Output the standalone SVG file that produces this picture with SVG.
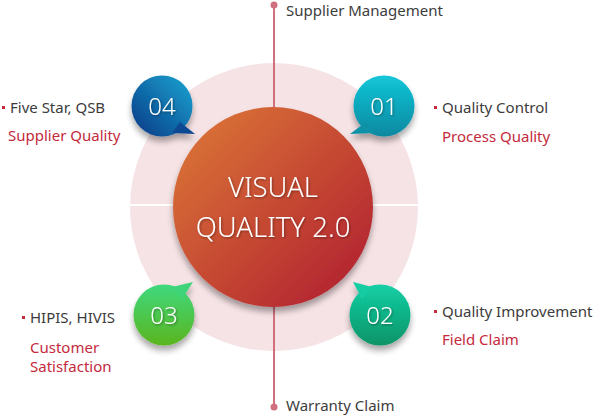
<svg xmlns="http://www.w3.org/2000/svg" width="595" height="416" viewBox="0 0 595 416">
<defs>
<linearGradient id="gMain" x1="0" y1="0" x2="1" y2="1">
<stop offset="0" stop-color="#de7b38"/>
<stop offset="1" stop-color="#ae1a2e"/>
</linearGradient>
<linearGradient id="g04" x1="1" y1="0" x2="0" y2="1">
<stop offset="0" stop-color="#17a6d2"/>
<stop offset="1" stop-color="#0b3784"/>
</linearGradient>
<linearGradient id="g01" x1="0.5" y1="0" x2="0.5" y2="1">
<stop offset="0" stop-color="#13c6d8"/>
<stop offset="1" stop-color="#0a88a0"/>
</linearGradient>
<linearGradient id="g03" x1="0.5" y1="0" x2="0.5" y2="1">
<stop offset="0" stop-color="#3fd97e"/>
<stop offset="1" stop-color="#5ab51e"/>
</linearGradient>
<linearGradient id="g02" x1="0.5" y1="0" x2="0.5" y2="1">
<stop offset="0" stop-color="#14cfa6"/>
<stop offset="1" stop-color="#0a9466"/>
</linearGradient>
<filter id="sh" x="-30%" y="-30%" width="160%" height="170%">
<feGaussianBlur in="SourceAlpha" stdDeviation="3"/>
<feOffset dx="0" dy="5" result="b"/>
<feComponentTransfer><feFuncA type="linear" slope="0.35"/></feComponentTransfer>
<feMerge><feMergeNode/><feMergeNode in="SourceGraphic"/></feMerge>
</filter>
<filter id="tsh" x="-10%" y="-20%" width="120%" height="150%">
<feGaussianBlur in="SourceAlpha" stdDeviation="0.8"/>
<feOffset dx="0.5" dy="1"/>
<feComponentTransfer><feFuncA type="linear" slope="0.4"/></feComponentTransfer>
<feMerge><feMergeNode/><feMergeNode in="SourceGraphic"/></feMerge>
</filter>
</defs>
<style>
.t{font-family:"Noto Sans","Liberation Sans",sans-serif;font-size:15px;fill:#3c3c3c}
.r{font-family:"Noto Sans","Liberation Sans",sans-serif;font-size:15px;fill:#c42a3c}
.n{font-family:"Noto Sans","Liberation Sans",sans-serif;font-size:24px;fill:#ffffff;text-anchor:middle;font-weight:300}
.m{font-family:"Noto Sans","Liberation Sans",sans-serif;font-size:27.5px;fill:#ffffff;text-anchor:middle;font-weight:300}
.b{fill:#c42a3c}
.ln{stroke:#d0707e;stroke-width:2;fill:none}
</style>
<g id="ring">
<circle cx="274" cy="207" r="144" fill="#f6e3e6"/>
<line x1="130" y1="205" x2="418" y2="205" stroke="#ffffff" stroke-width="2"/>
</g>
<g id="connectors">
<line class="ln" x1="274" y1="5" x2="274" y2="407"/>
<circle cx="274" cy="5" r="3.5" fill="#d0707e"/>
<circle cx="274" cy="407" r="3.5" fill="#d0707e"/>
</g>
<g id="center">
<circle cx="273" cy="207" r="100" fill="url(#gMain)" filter="url(#sh)"/>
<text class="m" x="273" y="197" filter="url(#tsh)">VISUAL</text>
<text class="m" x="273" y="237" filter="url(#tsh)">QUALITY 2.0</text>
</g>
<g id="n04" filter="url(#sh)">
<circle cx="162" cy="106" r="30.5" fill="url(#g04)"/>
<path d="M180 122 L195 134 L172 133 Z" fill="#0d4a92"/>
<text class="n" x="162" y="115" filter="url(#tsh)">04</text>
</g>
<g id="n01" filter="url(#sh)">
<circle cx="384" cy="106" r="30.5" fill="url(#g01)"/>
<path d="M366 122 L350 134 L374 133 Z" fill="#0b92a8"/>
<text class="n" x="384" y="115" filter="url(#tsh)">01</text>
</g>
<g id="n03" filter="url(#sh)">
<circle cx="164" cy="315" r="30.5" fill="url(#g03)"/>
<path d="M182 299 L193 282 L172 287 Z" fill="#40d47a"/>
<text class="n" x="164" y="324" filter="url(#tsh)">03</text>
</g>
<g id="n02" filter="url(#sh)">
<circle cx="380" cy="315" r="30.5" fill="url(#g02)"/>
<path d="M362 299 L353 282 L372 287 Z" fill="#16cca2"/>
<text class="n" x="380" y="324" filter="url(#tsh)">02</text>
</g>
<g id="top-label">
<text class="t" x="286" y="16">Supplier Management</text>
</g>
<g id="bottom-label">
<text class="t" x="286" y="411">Warranty Claim</text>
</g>
<g id="label04">
<rect class="b" x="2" y="106" width="3" height="3"/>
<text class="t" x="10" y="113">Five Star, QSB</text>
<text class="r" x="8" y="141">Supplier Quality</text>
</g>
<g id="label01">
<rect class="b" x="434" y="106" width="3" height="3"/>
<text class="t" x="442" y="113">Quality Control</text>
<text class="r" x="442" y="142">Process Quality</text>
</g>
<g id="label03">
<rect class="b" x="22" y="316" width="3" height="3"/>
<text class="t" x="30" y="323">HIPIS, HIVIS</text>
<text class="r" x="30" y="353">Customer</text>
<text class="r" x="30" y="372">Satisfaction</text>
</g>
<g id="label02">
<rect class="b" x="434" y="310" width="3" height="3"/>
<text class="t" x="442" y="317">Quality Improvement</text>
<text class="r" x="442" y="345">Field Claim</text>
</g>
</svg>
